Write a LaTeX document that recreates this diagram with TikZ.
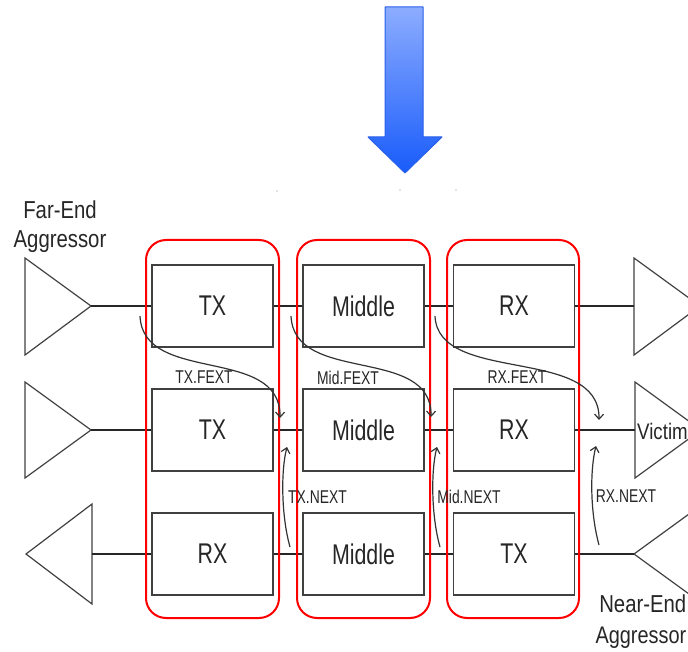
\documentclass[tikz,border=0pt]{standalone}
\usepackage{fontspec}
\setmainfont{Liberation Sans}[FakeStretch=0.75]
\newfontfamily\bigfont{Liberation Sans}[FakeStretch=0.83]
\usetikzlibrary{arrows.meta}
\definecolor{arrowtop}{RGB}{140,172,255}
\definecolor{arrowbot}{RGB}{25,92,250}
\definecolor{arrowedge}{RGB}{40,95,235}
\begin{document}
\begin{tikzpicture}[x=1pt,y=-1pt,
  blk/.style={draw=black!75, line width=1.7pt, minimum width=121pt, minimum height=82pt, inner sep=0pt, font=\fontsize{28.5}{30}\selectfont, text=black!85},
  grp/.style={draw=red, line width=2pt, rounded corners=20pt},
  wire/.style={line width=1.6pt, draw=black!85},
  tri/.style={draw=black!75, line width=1.2pt, line join=miter},
  xt/.style={draw=black!80, line width=1.2pt, -{Straight Barb[length=5pt,width=9pt]}},
  lbl/.style={font=\fontsize{18.5}{20}\selectfont, text=black!85, inner sep=0pt},
  big/.style={font=\bigfont\fontsize{24.5}{26}\selectfont, text=black!85, inner sep=0pt}]
\useasboundingbox (0,0) rectangle (688,652);
\clip (0,0) rectangle (688,652);

% blue arrow
\path[draw=arrowedge, line width=1pt, top color=arrowtop, bottom color=arrowbot, line join=round]
  (385,7) -- (423,7) -- (423,137) -- (442,137) -- (405,173) -- (368,137) -- (385,137) -- cycle;
\fill[black!50] (277,191) circle (0.7) (400,190) circle (0.7) (456,190) circle (0.7);

% triangles
\draw[tri] (25,258) -- (25,355) -- (91,306) -- cycle;
\draw[tri] (25,382) -- (25,478) -- (91,430) -- cycle;
\draw[tri] (92,504) -- (92,604) -- (26,554) -- cycle;
\draw[tri] (634,258) -- (634,355) -- (700,306) -- cycle;
\draw[tri] (635,382) -- (635,478) -- (701,430) -- cycle;
\draw[tri] (634,554) -- (700,506) -- (700,602) -- cycle;
\coordinate (l1) at (91,306);
\coordinate (l2) at (91,430);
\coordinate (l3) at (92,554);
\coordinate (r1) at (634,306);
\coordinate (r2) at (635,430);
\coordinate (r3) at (634,554);

% boxes
\node[blk] (b11) at (212.5,306) {TX};
\node[blk] (b12) at (363.5,306) {Middle};
\node[blk] (b13) at (514,306) {RX};
\node[blk] (b21) at (212.5,430) {TX};
\node[blk] (b22) at (363.5,430) {Middle};
\node[blk] (b23) at (514,430) {RX};
\node[blk] (b31) at (212.5,554) {RX};
\node[blk] (b32) at (363.5,554) {Middle};
\node[blk] (b33) at (514,554) {TX};

% wires
\draw[wire] (l1) -- (b11); \draw[wire] (b11) -- (b12); \draw[wire] (b12) -- (b13); \draw[wire] (b13) -- (r1);
\draw[wire] (l2) -- (b21); \draw[wire] (b21) -- (b22); \draw[wire] (b22) -- (b23); \draw[wire] (b23) -- (r2);
\draw[wire] (l3) -- (b31); \draw[wire] (b31) -- (b32); \draw[wire] (b32) -- (b33); \draw[wire] (b33) -- (r3);

% red groups
\draw[grp] (146,240) rectangle (279,618);
\draw[grp] (297,240) rectangle (430,618);
\draw[grp] (447,240) rectangle (579,618);

% crosstalk curves
\coordinate (f1s) at (140,316); \coordinate (f1e) at (280,418);
\coordinate (f2s) at (291,316); \coordinate (f2e) at (431,417);
\coordinate (f3s) at (435,316); \coordinate (f3e) at (599,420);
\draw[xt] (f1s) .. controls (143,385) and (281,345) .. (f1e);
\draw[xt] (f2s) .. controls (294,385) and (432,345) .. (f2e);
\draw[xt] (f3s) .. controls (438,385) and (600,345) .. (f3e);
\coordinate (n1s) at (290,547); \coordinate (n1e) at (287,447);
\coordinate (n2s) at (440,547); \coordinate (n2e) at (437,447);
\coordinate (n3s) at (599,545); \coordinate (n3e) at (596,446);
\draw[xt] (n1s) .. controls (281,515) and (281,470) .. (n1e);
\draw[xt] (n2s) .. controls (431,515) and (431,470) .. (n2e);
\draw[xt] (n3s) .. controls (590,512) and (590,470) .. (n3e);

% labels
\node[lbl] (tf) at (204,377) {TX.FEXT};
\node[lbl] (mf) at (348,378) {Mid.FEXT};
\node[lbl] (rf) at (517,377) {RX.FEXT};
\node[lbl] (tn) at (317.5,497) {TX.NEXT};
\node[lbl] (mn) at (469,497) {Mid.NEXT};
\node[lbl] (rn) at (626,496) {RX.NEXT};

\node[big] (fe1) at (60,210) {Far-End};
\node[big] (fe2) at (60,242) {Aggressor};
\node[big, anchor=east] (ne1) at (686.5,604) {Near-End};
\node[big, anchor=east, font=\bigfont\fontsize{24}{26}\selectfont] (ne2) at (686.5,638) {Aggressor};
\node[big, anchor=west, font=\bigfont\fontsize{22.5}{24}\selectfont] (vic) at (637,431) {Victim};
\end{tikzpicture}
\end{document}
